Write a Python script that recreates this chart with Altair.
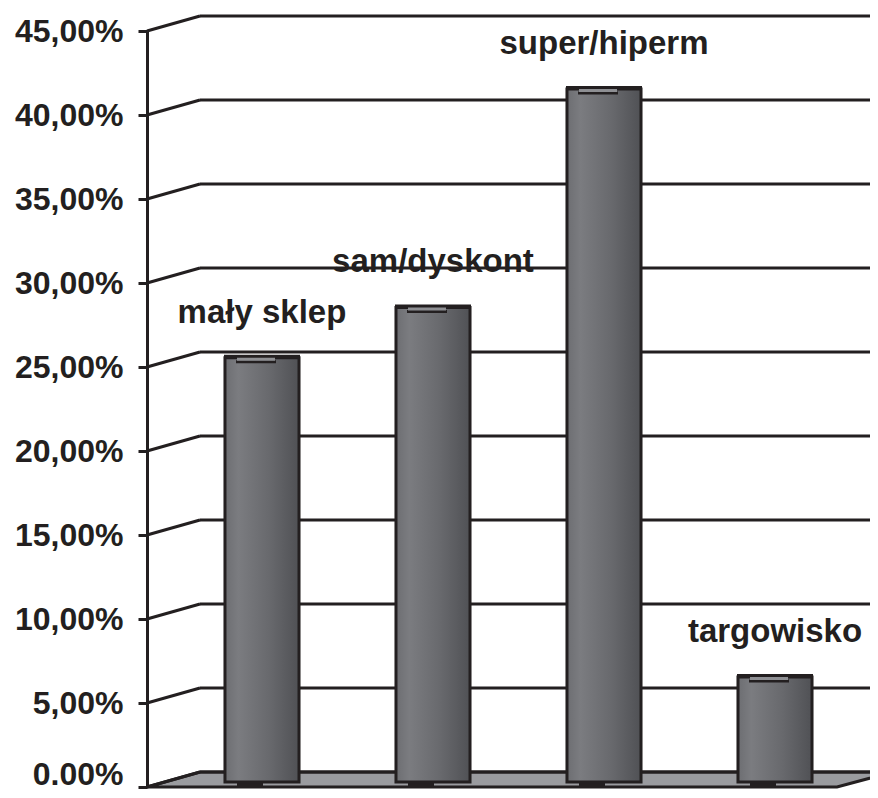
import altair as alt
import pandas as pd

# ---- data ----
categories = ["mały sklep", "sam/dyskont", "super/hiperm", "targowisko"]
shares = [25.1, 28.1, 41.1, 6.1]
tick_values = [0, 5, 10, 15, 20, 25, 30, 35, 40, 45]

# ---- layout / style ----
W, H = 723, 756
DX, DY = 53, 15          # depth of the pseudo-3D wall
INK = "#231f20"
FONT = "Liberation Sans"

bars_df = pd.DataFrame({"kategoria": categories, "udzial": shares})
grid_df = pd.DataFrame({"v": tick_values})
zero_df = pd.DataFrame({"v": [0]})

yscale = alt.Scale(domain=[0, 45], nice=False, zero=True)
xscale = alt.Scale(domain=categories, range=[0, 743], paddingInner=0.567, paddingOuter=0.456)

X = alt.X("kategoria:N", scale=xscale, axis=None, sort=categories)

yaxis = alt.Axis(
    values=tick_values,
    labelExpr="datum.value == 0 ? '0.00%' : replace(format(datum.value, '.2f'), '.', ',') + '%'",
    labelFont=FONT, labelFontWeight="bold", labelFontSize=32, labelColor=INK,
    labelPadding=15, tickSize=9, tickWidth=3, tickColor=INK,
    labelOffset={"condition": {"test": "datum.value === 0", "value": -13}, "value": 0},
    domainColor=INK, domainWidth=3, grid=False, title=None,
)


def Y(field):
    return alt.Y(field, scale=yscale, axis=yaxis)


# floor parallelogram (custom symbol, scale = sqrt(size)/2 = 400 px)
floor_path = "M -0.925 0.01875 L -0.7925 -0.01875 L 0.94 -0.01875 L 0.8 0.01875 Z"
floor = alt.Chart(zero_df).mark_point(
    shape=floor_path, filled=True, fill="#9a9b9f", stroke=INK, strokeWidth=3,
    opacity=1, fillOpacity=1, strokeOpacity=1, size=640000, yOffset=-DY / 2,
).encode(
    x=alt.value(370),
    y=Y("v:Q"),
)

grid_slant = alt.Chart(grid_df).mark_rule(color=INK, strokeWidth=3, y2Offset=-DY).encode(
    x=alt.value(0), x2=alt.value(DX),
    y=Y("v:Q"), y2="v:Q",
)
grid_flat = alt.Chart(grid_df).mark_rule(color=INK, strokeWidth=3, yOffset=-DY).encode(
    x=alt.value(DX), x2=alt.value(W + 30),
    y=Y("v:Q"),
)

gradient = alt.LinearGradient(
    gradient="linear", x1=0, x2=1, y1=0, y2=0,
    stops=[
        alt.GradientStop(color="#6d6e72", offset=0),
        alt.GradientStop(color="#7b7c80", offset=0.18),
        alt.GradientStop(color="#68696d", offset=0.6),
        alt.GradientStop(color="#505155", offset=1),
    ],
)

bars = alt.Chart(bars_df).mark_bar(
    fill=gradient, stroke=INK, strokeWidth=3, yOffset=-DY / 2, y2Offset=-5,
).encode(
    x=X,
    y=Y("udzial:Q"),
    y2=alt.Y2(datum=0),
)

top_edge = alt.Chart(bars_df).mark_tick(
    color=INK, thickness=4, size=76, yOffset=-DY / 2 - 1, opacity=1,
).encode(x=X, y=Y("udzial:Q"))

cap_line = alt.Chart(bars_df).mark_tick(
    color=INK, thickness=3, size=40, xOffset=-6, yOffset=-DY / 2 + 4, opacity=1,
).encode(x=X, y=Y("udzial:Q"))

cap = alt.Chart(bars_df).mark_tick(
    color="#8e8f93", thickness=3, size=38, xOffset=-6, yOffset=-DY / 2 + 1.5, opacity=1,
).encode(x=X, y=Y("udzial:Q"))

shadow = alt.Chart(bars_df).mark_tick(
    color=INK, thickness=4, size=26, xOffset=-12, yOffset=-2, opacity=1,
).encode(x=X, y=alt.Y(datum=0, scale=yscale, axis=yaxis))

labels = alt.Chart(bars_df).mark_text(
    font=FONT, fontWeight="bold", fontSize=33, color=INK,
    align="center", baseline="middle", yOffset=-DY / 2 - 45,
).encode(
    x=X,
    y=Y("udzial:Q"),
    text="kategoria:N",
)

chart = alt.layer(
    floor, grid_slant, grid_flat, shadow, bars, top_edge, cap_line, cap, labels
).properties(
    width=W, height=H,
    autosize=alt.AutoSizeParams(type="none"),
    padding={"left": 139, "top": 23, "right": 0, "bottom": 3},
    background="white",
).configure_view(stroke=None)

chart.save("out.html", embed_options={"renderer": "svg", "actions": False})
